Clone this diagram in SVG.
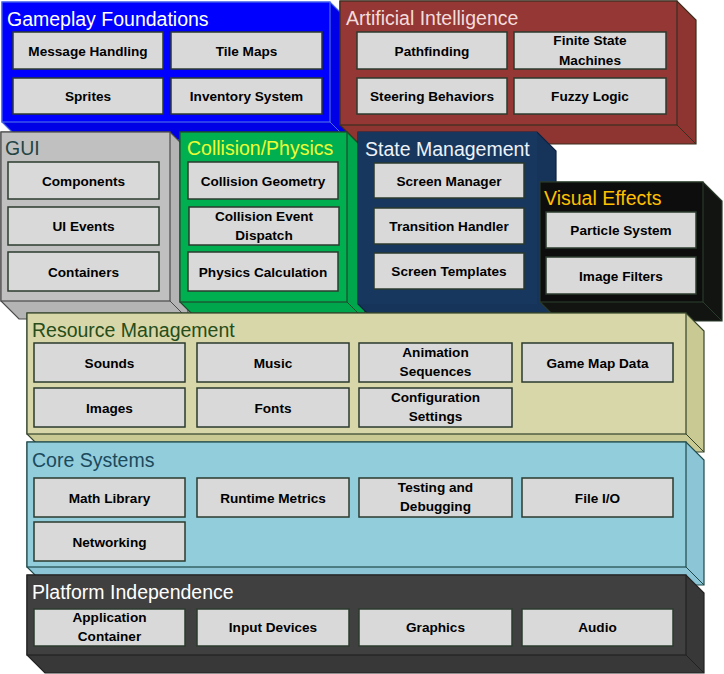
<svg xmlns="http://www.w3.org/2000/svg" width="724" height="674" viewBox="0 0 724 674">
<style>
.t{font-family:"Liberation Sans",Arial,sans-serif;font-size:19.5px}
.b rect{fill:#d9d9d9;stroke:#2b3a2e;stroke-width:1.5}
.b text{font-family:"Liberation Sans",Arial,sans-serif;font-size:13.6px;font-weight:bold;fill:#000;text-anchor:middle}
.e{stroke-width:1.2;stroke-linejoin:miter}
</style>
<rect width="724" height="674" fill="#ffffff"/>

<g id="gameplay">
<path class="e" d="M2,2H330L348,20V140H20L2,122Z" fill="#0000e6" stroke="#4a6ae8"/>
<rect class="e" x="2" y="2" width="328" height="120" fill="#0000ff" stroke="#4a6ae8"/>
<line x1="330" y1="122" x2="348" y2="140" stroke="#4a6ae8"/>
<text class="t" x="7" y="26" fill="#ffffff">Gameplay Foundations</text>
<g class="b">
<rect x="13" y="32" width="150" height="37"/><text x="88" y="55.5">Message Handling</text>
<rect x="171" y="32" width="151" height="37"/><text x="246.5" y="55.5">Tile Maps</text>
<rect x="13" y="78" width="150" height="36"/><text x="88" y="101">Sprites</text>
<rect x="171" y="78" width="151" height="36"/><text x="246.5" y="101">Inventory System</text>
</g>
</g>

<g id="ai">
<path class="e" d="M340,1H677L696,20V144H359L340,125Z" fill="#8e3531" stroke="#3a2e1e"/>
<rect class="e" x="340" y="1" width="337" height="124" fill="#953735" stroke="#3a2e1e"/>
<line x1="677" y1="125" x2="696" y2="144" stroke="#3a2e1e"/>
<text class="t" x="346" y="25" fill="#f2dcdb">Artificial Intelligence</text>
<g class="b">
<rect x="357" y="32" width="150" height="37"/><text x="432" y="55.5">Pathfinding</text>
<rect x="514" y="32" width="152" height="37"/><text x="590" y="45">Finite State</text><text x="590" y="65">Machines</text>
<rect x="357" y="78" width="150" height="36"/><text x="432" y="101">Steering Behaviors</text>
<rect x="514" y="78" width="152" height="36"/><text x="590" y="101">Fuzzy Logic</text>
</g>
</g>

<g id="gui">
<path class="e" d="M1,132H170L188,150V319H19L1,301Z" fill="#b4b4b4" stroke="#4a4a4a"/>
<rect class="e" x="1" y="132" width="169" height="169" fill="#c0c0c0" stroke="#4a4a4a"/>
<line x1="170" y1="301" x2="188" y2="319" stroke="#4a4a4a"/>
<text class="t" x="5" y="155" fill="#244545">GUI</text>
<g class="b">
<rect x="8" y="162" width="151" height="37"/><text x="83.5" y="185.5">Components</text>
<rect x="8" y="207" width="151" height="38"/><text x="83.5" y="231">UI Events</text>
<rect x="8" y="252" width="151" height="39"/><text x="83.5" y="276.5">Containers</text>
</g>
</g>

<g id="collision">
<path class="e" d="M180,132H347L365,150V320H198L180,302Z" fill="#00a64b" stroke="#1f4a2c"/>
<rect class="e" x="180" y="132" width="167" height="170" fill="#00b050" stroke="#1f4a2c"/>
<line x1="347" y1="302" x2="365" y2="320" stroke="#1f4a2c"/>
<text class="t" x="187" y="155" fill="#eeff33">Collision/Physics</text>
<g class="b">
<rect x="188" y="162" width="150" height="37"/><text x="263" y="185.5">Collision Geometry</text>
<rect x="189" y="207" width="150" height="38"/><text x="264" y="221">Collision Event</text><text x="264" y="240">Dispatch</text>
<rect x="188" y="252" width="150" height="39"/><text x="263" y="276.5">Physics Calculation</text>
</g>
</g>

<g id="state">
<path class="e" d="M358,132H537L556,151V323H377L358,304Z" fill="#16345a" stroke="#0e2240"/>
<rect x="358" y="132" width="179" height="172" fill="#17375e"/>
<text class="t" x="365" y="156" fill="#eef2f8">State Management</text>
<g class="b">
<rect x="374" y="163" width="150" height="35"/><text x="449" y="185.5">Screen Manager</text>
<rect x="374" y="208" width="150" height="36"/><text x="449" y="231">Transition Handler</text>
<rect x="374" y="253" width="150" height="36"/><text x="449" y="276">Screen Templates</text>
</g>
</g>

<g id="visual">
<path class="e" d="M540,182H703L722,201V321H559L540,302Z" fill="#111411" stroke="#2a3a2a"/>
<rect class="e" x="540" y="182" width="163" height="120" fill="#0d0d0d" stroke="#2a3a2a"/>
<line x1="703" y1="302" x2="722" y2="321" stroke="#2a3a2a"/>
<text class="t" x="544" y="205" fill="#ffc000">Visual Effects</text>
<g class="b">
<rect x="546" y="212" width="150" height="36"/><text x="621" y="235">Particle System</text>
<rect x="546" y="257" width="150" height="37"/><text x="621" y="280.5">Image Filters</text>
</g>
</g>

<g id="resource">
<path class="e" d="M27,313H686L704,331V452H45L27,434Z" fill="#c9c994" stroke="#34442a"/>
<rect class="e" x="27" y="313" width="659" height="121" fill="#d7d7a9" stroke="#34442a"/>
<line x1="686" y1="434" x2="704" y2="452" stroke="#34442a"/>
<text class="t" x="32" y="337" fill="#264d1a">Resource Management</text>
<g class="b">
<rect x="34" y="343" width="151" height="39"/><text x="109.5" y="367.5">Sounds</text>
<rect x="197" y="343" width="152" height="39"/><text x="273" y="367.5">Music</text>
<rect x="359" y="343" width="153" height="39"/><text x="435.5" y="357">Animation</text><text x="435.5" y="376">Sequences</text>
<rect x="522" y="343" width="151" height="39"/><text x="597.5" y="367.5">Game Map Data</text>
<rect x="34" y="388" width="151" height="39"/><text x="109.5" y="412.5">Images</text>
<rect x="197" y="388" width="152" height="39"/><text x="273" y="412.5">Fonts</text>
<rect x="359" y="388" width="153" height="39"/><text x="435.5" y="402">Configuration</text><text x="435.5" y="421">Settings</text>
</g>
</g>

<g id="core">
<path class="e" d="M27,442H686L704,460V585H45L27,567Z" fill="#8cc6d6" stroke="#1f4a4a"/>
<rect class="e" x="27" y="442" width="659" height="125" fill="#92cddc" stroke="#1f4a4a"/>
<line x1="686" y1="567" x2="704" y2="585" stroke="#1f4a4a"/>
<text class="t" x="32" y="467" fill="#1b4a5c">Core Systems</text>
<g class="b">
<rect x="34" y="478" width="151" height="39"/><text x="109.5" y="502.5">Math Library</text>
<rect x="197" y="478" width="152" height="39"/><text x="273" y="502.5">Runtime Metrics</text>
<rect x="359" y="478" width="153" height="39"/><text x="435.5" y="492">Testing and</text><text x="435.5" y="511">Debugging</text>
<rect x="522" y="478" width="151" height="39"/><text x="597.5" y="502.5">File I/O</text>
<rect x="34" y="522" width="151" height="39"/><text x="109.5" y="546.5">Networking</text>
</g>
</g>

<g id="platform">
<path class="e" d="M27,575H686L704,593V673H45L27,655Z" fill="#383838" stroke="#222222"/>
<rect class="e" x="27" y="575" width="659" height="80" fill="#404040" stroke="#222222"/>
<line x1="686" y1="655" x2="704" y2="673" stroke="#222222"/>
<text class="t" x="32" y="599" fill="#ffffff">Platform Independence</text>
<g class="b">
<rect x="34" y="609" width="151" height="37"/><text x="109.5" y="622">Application</text><text x="109.5" y="641">Container</text>
<rect x="197" y="609" width="152" height="37"/><text x="273" y="632">Input Devices</text>
<rect x="359" y="609" width="153" height="37"/><text x="435.5" y="632">Graphics</text>
<rect x="522" y="609" width="151" height="37"/><text x="597.5" y="632">Audio</text>
</g>
</g>

<g id="connectors"></g>
</svg>
